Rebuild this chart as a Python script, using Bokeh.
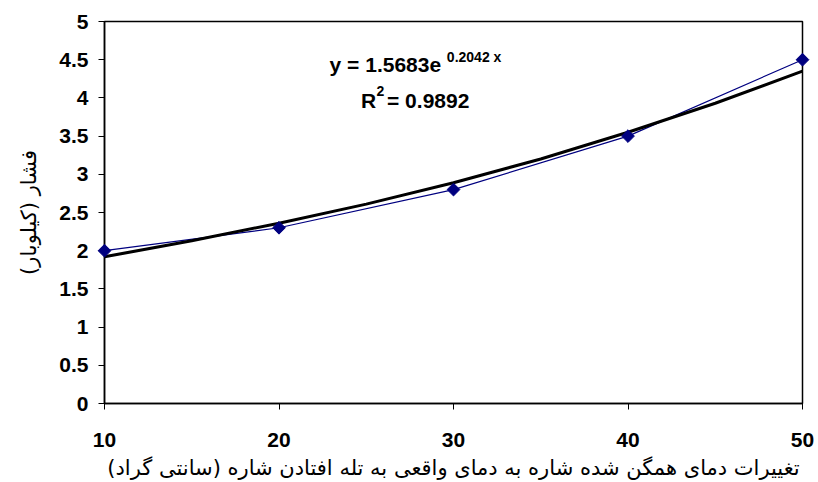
import math
from bokeh.plotting import figure
from bokeh.models import Range1d, NumeralTickFormatter, FixedTicker
from bokeh.core.properties import value
from bokeh.embed import file_html
from bokeh.resources import INLINE

# data
temp_change = [10, 20, 30, 40, 50]
pressure = [2.0, 2.3, 2.8, 3.5, 4.5]
# trend line (exponential fit)
trend_x = [10, 15, 20, 25, 30, 35, 40, 45, 50]
trend_y = [1.92, 2.13, 2.36, 2.61, 2.89, 3.20, 3.55, 3.93, 4.35]
x_ticks = [10, 20, 30, 40, 50]
y_ticks = [0, 0.5, 1, 1.5, 2, 2.5, 3, 3.5, 4, 4.5, 5]

p = figure(width=818, height=482, output_backend="svg", toolbar_location=None,
           x_range=Range1d(10, 50), y_range=Range1d(0, 5),
           min_border_left=104, min_border_right=16, min_border_top=21, min_border_bottom=78)

p.outline_line_color = "black"
p.outline_line_width = 1.5
p.xgrid.visible = False
p.ygrid.visible = False
p.background_fill_color = "white"
p.border_fill_color = "white"

for ax in (p.xaxis[0], p.yaxis[0]):
    ax.axis_line_color = "black"
    ax.axis_line_width = 1.5
    ax.major_tick_line_color = "black"
    ax.major_tick_in = 0
    ax.major_tick_out = 6
    ax.minor_tick_line_color = None
    ax.major_label_text_font = "Liberation Sans"
    ax.major_label_text_font_style = "bold"
    ax.major_label_text_font_size = "21px"
    ax.major_label_text_color = "black"
    ax.axis_label_text_font = "DejaVu Sans"
    ax.axis_label_text_font_style = "normal"
    ax.axis_label_text_font_size = "21px"
    ax.axis_label_text_color = "black"

p.xaxis.ticker = FixedTicker(ticks=x_ticks)
p.yaxis.ticker = FixedTicker(ticks=y_ticks)
p.yaxis.formatter = NumeralTickFormatter(format="0.[0]")
p.xaxis.major_label_standoff = 23
p.yaxis.major_label_standoff = 10
p.xaxis.axis_label = "تغییرات دمای همگن شده شاره به دمای واقعی به تله افتادن شاره (سانتی گراد)"
p.yaxis.axis_label = "فشار (کیلوبار)"
p.xaxis.axis_label_standoff = 6
p.yaxis.axis_label_standoff = 15

p.line(temp_change, pressure, line_color="#000080", line_width=1.2)
p.scatter(temp_change, pressure, marker="square", size=9, angle=math.pi / 4,
          fill_color="#000080", line_color="#000080", level="overlay")
p.line(trend_x, trend_y, line_color="black", line_width=3)

font = value("Liberation Sans")
p.text(x=[22.9], y=[4.44], text=["y = 1.5683e"], text_font=font, text_font_style="bold",
       text_font_size="21px", text_color="black", text_baseline="alphabetic", text_align="left")
p.text(x=[29.62], y=[4.54], text=["0.2042 x"], text_font=font, text_font_style="bold",
       text_font_size="14px", text_color="black", text_baseline="alphabetic", text_align="left")
p.text(x=[24.7], y=[3.96], text=["R"], text_font=font, text_font_style="bold",
       text_font_size="21px", text_color="black", text_baseline="alphabetic", text_align="left")
p.text(x=[25.59], y=[4.09], text=["2"], text_font=font, text_font_style="bold",
       text_font_size="14px", text_color="black", text_baseline="alphabetic", text_align="left")
p.text(x=[26.19], y=[3.96], text=["= 0.9892"], text_font=font, text_font_style="bold",
       text_font_size="21px", text_color="black", text_baseline="alphabetic", text_align="left")

open("out.html", "w").write(file_html(p, INLINE))
